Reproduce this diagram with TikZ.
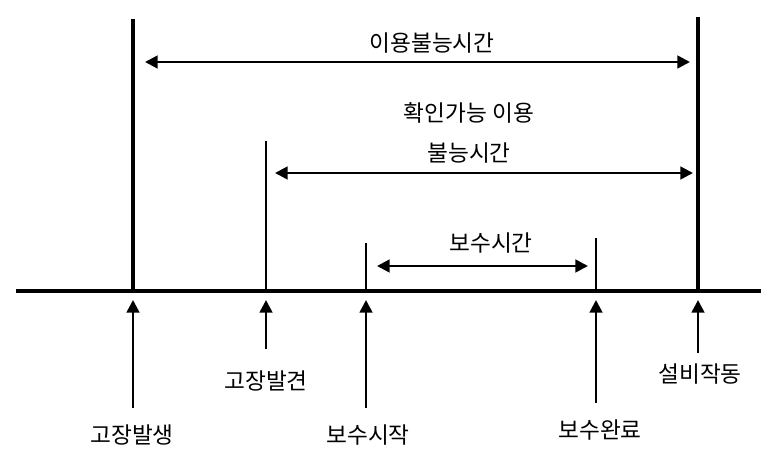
\documentclass[tikz,border=0pt]{standalone}
\usepackage{fontspec}
\newfontfamily\kr{Noto Sans CJK KR}
\usetikzlibrary{arrows.meta}

\begin{document}
\begin{tikzpicture}[x=0.75pt,y=-0.75pt,>={Triangle[length=9.5pt,width=9.5pt]},font=\kr\fontsize{17}{22}\selectfont]
\tikzstyle{axis}=[line width=3pt]
\tikzstyle{bigmark}=[line width=2.5pt]
\tikzstyle{smallmark}=[line width=1.5pt]
\tikzstyle{span}=[line width=2pt,<->]
\tikzstyle{up}=[line width=2pt,->]
\tikzstyle{lbl}=[inner sep=0pt]
\useasboundingbox (0,0) rectangle (773,463);
% time axis
\coordinate (start) at (16,291);
\coordinate (end) at (761,291);
\draw[axis] (start) -- (end);
% events on the axis
\coordinate (fail) at (133,291);
\coordinate (find) at (266,291);
\coordinate (rstart) at (366,291);
\coordinate (rdone) at (596,291);
\coordinate (run) at (698,291);
\coordinate (failtop) at (133,19);
\coordinate (findtop) at (266,141);
\coordinate (rstarttop) at (366,243);
\coordinate (rdonetop) at (596,238);
\coordinate (runtop) at (698,17);
\draw[bigmark] (fail) -- (failtop);
\draw[smallmark] (find) -- (findtop);
\draw[smallmark] (rstart) -- (rstarttop);
\draw[smallmark] (rdone) -- (rdonetop);
\draw[bigmark] (run) -- (runtop);
% spans
\coordinate (a1) at (145,62);
\coordinate (b1) at (690,62);
\coordinate (a2) at (275,173);
\coordinate (b2) at (693,173);
\coordinate (a3) at (377,266);
\coordinate (b3) at (588,266);
\draw[span] (a1) -- (b1);
\draw[span] (a2) -- (b2);
\draw[span] (a3) -- (b3);
\node[lbl] (down) at (432,43) {이용불능시간};
\node[lbl] (seen1) at (469,113) {확인가능 이용};
\node[lbl] (seen2) at (469,153) {불능시간};
\node[lbl] (repair) at (491,243) {보수시간};
% pointers below the axis
\coordinate (failtip) at (133,300);
\coordinate (findtip) at (266,300);
\coordinate (rstarttip) at (366,300);
\coordinate (rdonetip) at (596,300);
\coordinate (runtip) at (698,300);
\coordinate (failtail) at (133,408);
\coordinate (findtail) at (266,349);
\coordinate (rstarttail) at (366,408);
\coordinate (rdonetail) at (596,403);
\coordinate (runtail) at (698,353);
\draw[up] (failtail) -- (failtip);
\draw[up] (findtail) -- (findtip);
\draw[up] (rstarttail) -- (rstarttip);
\draw[up] (rdonetail) -- (rdonetip);
\draw[up] (runtail) -- (runtip);
\node[lbl] (failtxt) at (132,435) {고장발생};
\node[lbl] (findtxt) at (266,381) {고장발견};
\node[lbl] (rstarttxt) at (368,435) {보수시작};
\node[lbl] (rdonetxt) at (600,430) {보수완료};
\node[lbl] (runtxt) at (700,374) {설비작동};
\end{tikzpicture}
\end{document}
